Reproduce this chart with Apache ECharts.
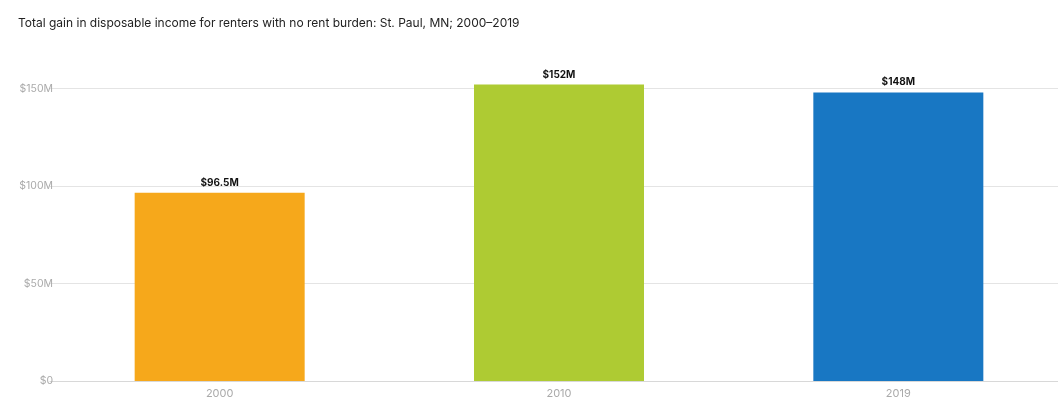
<!DOCTYPE html>
<html><head><meta charset="utf-8">
<script src="https://cdn.jsdelivr.net/npm/echarts@6/dist/echarts.min.js"></script>
<style>html,body{margin:0;padding:0;background:#fff;overflow:hidden}#c{width:1068px;height:406px}</style>
</head><body><div id="c"></div>
<script>
const categories = ['2000', '2010', '2019'];
const values = [96.5, 152, 148];
const valueLabels = ['$96.5M', '$152M', '$148M'];
const barColors = ['#F6A81B', '#AECB33', '#1877C3'];
const yTicks = [0, 50, 100, 150];
const yTickLabels = ['$0', '$50M', '$100M', '$150M'];
const titleText = 'Total gain in disposable income for renters with no rent burden: St. Paul, MN; 2000–2019';

const chart = echarts.init(document.getElementById('c'), null, {renderer: 'canvas'});
chart.setOption({
  backgroundColor: '#fff',
  animation: false,
  title: {
    text: titleText, left: 13, top: 12,
    textStyle: {fontFamily: 'Inter', fontSize: 12, fontWeight: 'normal', color: '#222'}
  },
  grid: {left: 50, right: 0, top: 69, height: 312},
  xAxis: {
    type: 'category', data: categories,
    axisLine: {show: true, lineStyle: {color: '#d8d8d8'}},
    axisTick: {show: false},
    axisLabel: {color: '#aaa', fontFamily: 'Inter', fontSize: 11, margin: 7}
  },
  yAxis: {
    type: 'value', min: 0, max: 160, interval: 50,
    axisLine: {show: false}, axisTick: {show: false},
    splitLine: {show: false},
    axisLabel: {
      color: '#aaa', fontFamily: 'Inter', fontSize: 10.5, margin: -3,
      formatter: v => { const i = yTicks.indexOf(v); return i >= 0 ? yTickLabels[i] : ''; }
    }
  },
  series: [{
    type: 'bar', barWidth: 170,
    data: values.map((v, i) => ({value: v, itemStyle: {color: barColors[i]}})),
    label: {
      show: true, position: 'top', distance: 5,
      fontFamily: 'Inter', fontSize: 10, fontWeight: 'bold', color: '#111',
      formatter: p => valueLabels[p.dataIndex]
    },
    markLine: {
      silent: true, symbol: 'none', label: {show: false}, z: 0,
      lineStyle: {color: '#e4e4e4', type: 'solid', width: 1},
      data: yTicks.filter(t => t > 0).map(t => ({yAxis: t}))
    },
    z: 3
  }]
});
</script></body></html>
